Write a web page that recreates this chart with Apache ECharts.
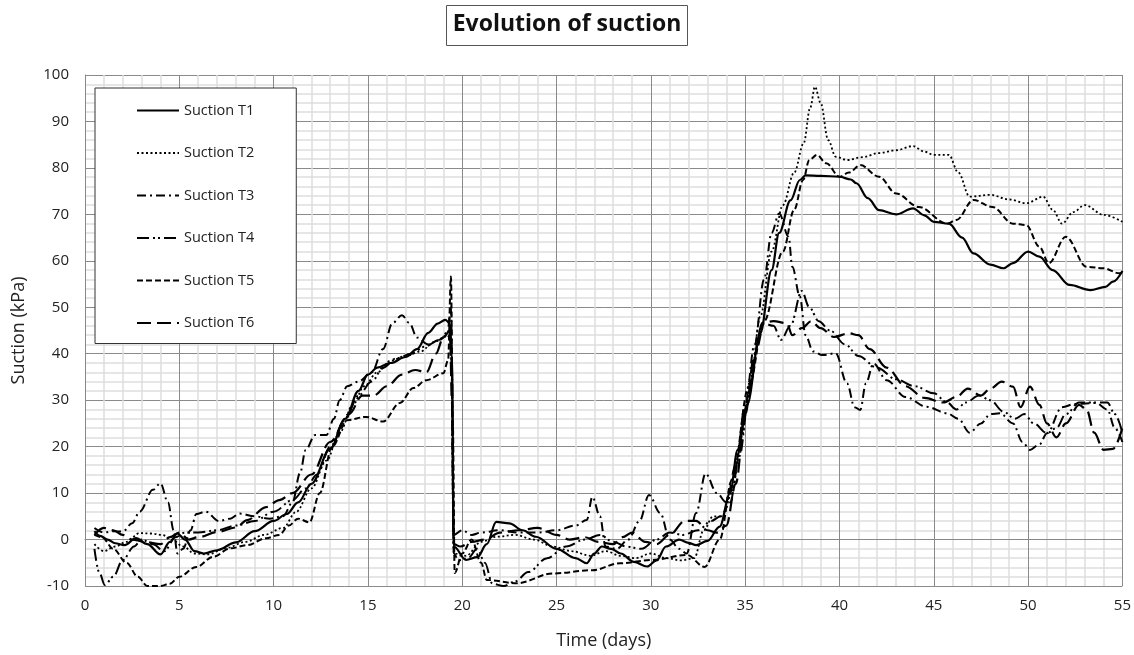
<!DOCTYPE html>
<html>
<head>
<meta charset="utf-8">
<script src="https://cdn.jsdelivr.net/npm/echarts@6/dist/echarts.min.js"></script>
<style>
  html, body { margin: 0; padding: 0; background: #fff; }
  #chart { width: 1134px; height: 655px; }
</style>
</head>
<body>
<div id="chart"></div>
<script>
// time (days) and suction (kPa) per sensor
var t1Days = [0.5, 0.8, 1.2, 1.6, 2.1, 2.7, 3.3, 4.0, 4.5, 4.9, 5.3, 5.8, 6.3, 7.0, 8.0, 9.0, 10.0, 10.7, 11.3, 12.0, 13.0, 13.8, 14.5, 15.0, 15.5, 16.2, 17.0, 17.6, 18.2, 18.7, 19.1, 19.35, 19.45, 19.55, 20.2, 20.8, 21.3, 21.8, 22.5, 23.2, 23.9, 25.0, 26.0, 26.6, 27.0, 27.4, 27.9, 28.4, 29.1, 29.8, 30.3, 30.8, 31.5, 32.0, 32.4, 33.0, 33.65, 34.2, 34.6, 35.1, 35.8, 36.4, 36.8, 37.4, 37.9, 38.2, 39.0, 40.0, 40.6, 40.9, 41.5, 42.1, 43.0, 43.9, 44.5, 45.0, 45.8, 46.5, 47.1, 48.0, 48.7, 49.2, 50.0, 50.6, 51.3, 52.2, 53.3, 54.1, 54.5, 55.0];
var t1Suction = [1.8, 0.8, 0, -0.8, -1.2, 0.3, -1, -3.2, -0.5, 1.3, 0, -2.5, -3, -2.3, -0.6, 1.8, 4, 5.5, 8, 12, 19.5, 26, 32, 35.5, 37, 38, 39.3, 41, 44.5, 46.5, 47.3, 46.5, 40, -1.5, -4.4, -3.8, -1, 3.8, 3.5, 2, 0.6, -2, -4, -5.1, -3, -1.5, -2, -3, -4.8, -5.8, -4.5, -1.5, 0, -0.7, -1.2, -0.3, 2.8, 10, 19.3, 29, 44.4, 58, 66, 73, 77.4, 78.4, 78.3, 78.1, 77.5, 76.7, 73.5, 70.9, 70, 71.3, 69.8, 68.4, 68, 65, 61.6, 59.2, 58.4, 59.5, 62, 60.9, 58, 54.8, 53.7, 54.4, 55.5, 57.8];

var t2Days = [0.5, 1.0, 1.6, 2.2, 2.9, 3.5, 4.1, 4.6, 5.2, 5.8, 6.5, 7.5, 8.5, 9.5, 10.5, 11.2, 12.0, 12.8, 13.5, 14.2, 14.8, 15.5, 16.2, 17.0, 17.8, 18.5, 19.2, 19.4, 19.55, 20.2, 21.0, 21.8, 22.8, 23.8, 24.8, 25.8, 26.8, 27.6, 28.4, 29.2, 30.0, 30.8, 31.6, 32.3, 32.8, 33.3, 33.8, 34.3, 34.8, 35.3, 35.8, 36.4, 37.0, 37.6, 38.1, 38.45, 38.7, 39.0, 39.4, 39.8, 40.4, 41.2, 42.1, 43.0, 43.9, 44.5, 45.0, 45.8, 46.3, 46.9, 48.0, 49.0, 49.9, 50.8, 51.3, 51.8, 52.4, 53.0, 54.0, 55.0];
var t2Suction = [-1, -2.5, -1.5, -0.5, 1.4, 1.3, 1, 0, -1.5, -3, -3.2, -1.8, -0.5, 1, 2.5, 6, 11, 17, 23, 29, 33, 36, 38.5, 39.5, 40.5, 42.5, 44, 43, -3, -3.5, -0.5, 0.6, 1, 0, -1.5, -2.5, -3.5, -2.5, -3.5, -4, -3, -4, -4.5, -4, 2, 5, 5, 10, 22, 35, 48, 62, 72, 79, 85.3, 93, 97.5, 94, 86, 82.4, 81.7, 82.3, 83.2, 83.8, 84.7, 83.5, 82.8, 82.8, 79, 73.8, 74.2, 73.2, 72.4, 73.8, 71, 68, 70.5, 72, 69.9, 68.4];

var t3Days = [0.5, 1.0, 1.5, 2.0, 2.5, 2.9, 3.6, 4.0, 4.4, 4.7, 4.9, 5.2, 5.6, 5.9, 6.4, 7.1, 7.7, 8.2, 9.0, 9.8, 10.5, 11.0, 11.4, 11.7, 12.2, 12.8, 13.2, 13.5, 13.9, 14.5, 15.2, 15.8, 16.3, 16.8, 17.2, 17.6, 18.2, 18.8, 19.2, 19.4, 19.55, 20.0, 20.5, 21.0, 22.0, 23.0, 24.0, 25.0, 26.0, 26.6, 26.9, 27.3, 27.6, 28.2, 28.8, 29.4, 29.9, 30.5, 31.0, 31.5, 31.9, 32.4, 32.9, 33.5, 34.0, 34.5, 35.0, 35.5, 36.0, 36.4, 36.8, 37.3, 37.5, 37.9, 38.2, 38.6, 39.1, 39.8, 40.4, 40.8, 41.1, 41.4, 41.8, 42.5, 43.5, 44.6, 45.7, 46.3, 46.9, 47.5, 48.0, 48.5, 49.2, 49.7, 50.1, 50.6, 51.0, 51.8, 52.5, 53.6, 54.2, 54.6, 55.0];
var t3Suction = [2.5, 1.5, 1.8, 1.7, 3.5, 6, 10.7, 12.1, 8, 2, -3, -2, 2, 5.5, 6, 4, 4.5, 5.6, 5, 4.5, 5, 8, 14.3, 19.3, 22.5, 22.5, 26, 30, 33, 34, 36, 41, 46.6, 48.3, 46.6, 43.5, 42, 43, 44, 50, 1, 2, 1, 1.5, 2, 1.5, 1.5, 2, 3, 4.2, 9.2, 5, -1.5, -2, 0, 4, 9.6, 5.7, 0, -2, -3, 5.7, 14.2, 10, 8, 16, 29, 42, 56, 66, 70.2, 65.2, 58.7, 52.3, 44, 40.5, 39.7, 40.1, 33.6, 28.5, 27.9, 33.6, 37.9, 34.3, 30.7, 28.6, 27.2, 26, 23, 25, 27, 27.2, 25, 21, 19.3, 20.5, 22.9, 28.5, 29.2, 29.4, 28, 24, 21];

var t4Days = [0.5, 0.75, 1.05, 1.5, 2.0, 2.6, 3.0, 3.6, 4.2, 4.8, 5.3, 6.0, 7.0, 8.0, 9.0, 10.0, 11.0, 11.7, 12.3, 13.0, 13.8, 14.5, 15.2, 15.8, 16.5, 17.3, 18.0, 18.8, 19.3, 19.45, 19.55, 19.8, 20.3, 20.8, 21.2, 21.6, 22.2, 22.8, 23.5, 24.5, 25.5, 26.5, 27.3, 28.0, 28.7, 29.5, 30.3, 31.0, 31.7, 32.5, 33.2, 33.7, 34.2, 34.7, 35.2, 35.6, 36.0, 36.5, 36.9, 37.4, 38.0, 38.4, 38.9, 39.5, 40.3, 41.0, 42.0, 43.0, 44.0, 45.0, 45.7, 46.2, 46.7, 47.4, 48.0, 48.7, 49.3, 49.8, 50.3, 51.0, 51.5, 52.0, 52.7, 53.5, 54.2, 54.6, 55.0];
var t4Suction = [-2, -7, -9.8, -8, -4.4, -1.5, 0, -1, -2.5, 0.5, 1.5, 1.5, 2, 3, 4, 6, 8.5, 11, 14, 20, 26, 31, 34, 37, 39, 40, 41.5, 43, 45, 38, -3, -4.5, -4, -2, -5, -9.5, -10, -9, -7, -4, -1.5, 0, 1, -0.5, -1.5, -2, 0, 1.5, 1, 2, 4, 5, 8, 18, 31, 41, 46.5, 46, 43, 46, 53.5, 50, 47, 45, 42, 39.5, 37, 34.5, 33, 31.5, 29.5, 28, 29.5, 31, 30, 27.5, 26, 27, 25, 22.9, 24, 27, 29.5, 29.5, 29.5, 27, 23];

var t5Days = [0.5, 0.9, 1.5, 2.2, 2.8, 3.3, 4.0, 4.5, 5.0, 5.9, 6.8, 7.7, 8.6, 9.6, 10.3, 10.8, 11.3, 11.9, 12.45, 13.1, 13.9, 14.9, 15.8, 16.7, 17.4, 18.1, 19.0, 19.25, 19.4, 19.5, 19.6, 20.0, 20.5, 21.0, 21.3, 22.9, 24.8, 26.9, 28.35, 30.1, 31.9, 32.85, 33.65, 34.3, 35.2, 36.0, 37.0, 37.6, 38.07, 38.4, 38.8, 39.3, 40.0, 40.5, 41.1, 42.1, 43.0, 44.2, 45.7, 46.2, 47.1, 48.1, 49.2, 49.9, 50.6, 51.1, 52.0, 53.1, 54.0, 54.85, 55.0];
var t5Suction = [1, 0.5, -2, -5, -8, -10, -10, -9.5, -8, -5.9, -3.7, -1.9, -1.2, 0.3, 1, 3, 4.5, 3.7, 10, 20, 25.7, 26.4, 25.4, 29.4, 32.6, 34.3, 35.8, 38.6, 56.6, 25, -7.2, -3, 0, -5, -8.7, -9.4, -7.3, -6.6, -5.1, -4.4, -3.3, -5.9, 0, 12.8, 33, 47, 62, 71, 77.4, 81.7, 82.8, 81, 78.1, 79, 80.6, 78.1, 74.5, 71.6, 68, 68.8, 73.1, 71.6, 68, 67.7, 63, 59.5, 65.2, 58.7, 58.4, 57.3, 57.5];

var t6Days = [0.5, 1.0, 1.5, 2.0, 2.5, 3.2, 4.0, 4.5, 5.0, 5.5, 6.0, 7.0, 8.0, 8.6, 9.6, 10.3, 11.0, 12.0, 13.0, 14.0, 14.7, 15.3, 16.0, 16.8, 17.5, 18.1, 18.6, 19.0, 19.35, 19.45, 19.55, 19.9, 20.5, 21.2, 22.0, 23.0, 24.0, 25.0, 25.7, 26.5, 27.2, 28.0, 28.5, 29.0, 29.7, 30.3, 31.0, 31.8, 32.4, 33.0, 33.5, 34.0, 34.5, 35.0, 35.5, 35.9, 36.5, 37.2, 37.5, 38.0, 38.5, 39.0, 39.7, 40.5, 41.0, 41.6, 42.5, 43.5, 44.5, 45.5, 46.2, 46.8, 47.5, 48.0, 48.6, 49.2, 49.6, 50.1, 50.6, 51.0, 51.5, 52.0, 52.7, 53.1, 53.5, 54.0, 54.5, 55.0];
var t6Suction = [1, 2.5, 2, 1, 0, -0.5, -1, 0.5, 1.5, 0, 0.5, 1.6, 2.6, 4.2, 7, 8.5, 10, 14, 21, 27, 31, 31, 33, 35.5, 36.5, 36, 40, 43.5, 45, 30, -1, -1.5, -0.5, 0, 1.5, 2, 2.5, 1, 0, 0.5, -0.5, -1, 0.5, 1.5, -0.5, -1, 1, 4, 4, 2, 1.5, 3, 12, 27, 40, 46.6, 47, 46.6, 44, 45.5, 47, 45.5, 43.6, 44.4, 44, 41, 37, 33, 30.5, 29.5, 30.7, 32.5, 31, 32.5, 34, 32.9, 28.5, 32.9, 29, 25, 22, 25, 29, 28, 23, 19.3, 19.5, 24];

var seriesNames = ['Suction T1', 'Suction T2', 'Suction T3', 'Suction T4', 'Suction T5', 'Suction T6'];

function pairs(days, vals) {
  return days.map(function (d, i) { return [d, vals[i]]; });
}

var dashes = ['solid', [2, 2.5], [9, 4, 2, 4], [12, 4, 2, 3, 2, 4], [6, 3], [14, 6]];
var widths = [2.2, 1.8, 2, 2, 2, 2.2];
var allData = [
  pairs(t1Days, t1Suction), pairs(t2Days, t2Suction), pairs(t3Days, t3Suction),
  pairs(t4Days, t4Suction), pairs(t5Days, t5Suction), pairs(t6Days, t6Suction)
];

var myChart = echarts.init(document.getElementById('chart'));

var font = '"Open Sans", "Noto Sans", sans-serif';

option = {
  animation: false,
  textStyle: { fontFamily: font },
  title: {
    text: 'Evolution of suction',
    left: 'center',
    top: 5,
    padding: [8, 6, 10, 6],
    borderColor: '#555',
    borderWidth: 1,
    textStyle: { fontSize: 23, fontWeight: 'bold', color: '#111', fontFamily: font }
  },
  legend: {
    data: seriesNames,
    orient: 'vertical',
    left: 95,
    top: 88,
    itemWidth: 42,
    itemHeight: 14,
    itemGap: 27.5,
    padding: [15, 42, 13, 41],
    backgroundColor: '#fff',
    borderColor: '#333',
    borderWidth: 1,
    itemStyle: { opacity: 0 },
    textStyle: { fontSize: 14.5, color: '#222', fontFamily: font }
  },
  grid: { left: 85, right: 11, top: 75, bottom: 69 },
  xAxis: {
    type: 'value',
    min: 0, max: 55, interval: 5,
    name: 'Time (days)',
    nameLocation: 'middle',
    nameGap: 46,
    nameTextStyle: { fontSize: 18, color: '#222' },
    axisLine: { lineStyle: { color: '#888' } },
    axisTick: { show: false },
    axisLabel: { fontSize: 15, color: '#222', margin: 12 },
    splitLine: { lineStyle: { color: '#8a8a8a', width: 1 } },
    minorTick: { show: false, splitNumber: 5 },
    minorSplitLine: { show: true, lineStyle: { color: '#dedede', width: 1.5 } }
  },
  yAxis: {
    type: 'value',
    min: -10, max: 100, interval: 10,
    name: 'Suction (kPa)',
    nameLocation: 'middle',
    nameGap: 57,
    nameTextStyle: { fontSize: 18, color: '#222' },
    axisLine: { show: true, lineStyle: { color: '#888' } },
    axisTick: { show: false },
    axisLabel: { fontSize: 15, color: '#222', margin: 16 },
    splitLine: { lineStyle: { color: '#8a8a8a', width: 1 } },
    minorTick: { show: false, splitNumber: 5 },
    minorSplitLine: { show: true, lineStyle: { color: '#dedede', width: 1.5 } }
  },
  series: seriesNames.map(function (name, i) {
    return {
      name: name,
      type: 'line',
      data: allData[i],
      smooth: 0.35,
      smoothMonotone: 'x',
      symbol: 'none',
      clip: true,
      color: '#000',
      lineStyle: { color: '#000', width: widths[i], type: dashes[i] }
    };
  })
};

option && myChart.setOption(option);
</script>
</body>
</html>
